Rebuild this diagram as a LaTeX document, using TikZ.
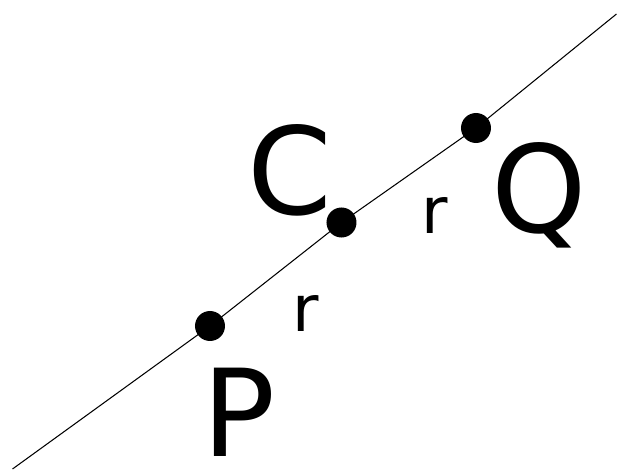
\documentclass[tikz,border=0pt]{standalone}
\usepackage{fontspec}
\setmainfont{DejaVu Sans}
\usetikzlibrary{positioning}

\begin{document}
\begin{tikzpicture}[
  pt/.style={circle, fill=black, inner sep=0pt, minimum size=0.6cm},
  biglbl/.style={inner sep=0pt, anchor=base, font=\fontsize{69}{78}\selectfont},
  rlbl/.style={inner sep=0pt, anchor=base, font=\fontsize{36.6}{42}\selectfont},
  ln/.style={line width=0.6pt}
]
\useasboundingbox (0,0) rectangle (12.34,9.4);

% Line ends
\coordinate (lo) at (0.25,0.02);
\coordinate (hi) at (12.33,9.12);

% Points
\node[pt] (p) at (4.2,2.88) {};
\node[pt] (c) at (6.83,4.95) {};
\node[pt] (q) at (9.52,6.84) {};

% Line
\draw[ln] (lo) -- (p.center) -- (c.center) -- (q.center) -- (hi);

% Labels
\node[biglbl] (plbl) at (4.78,0.26) {P};
\node[biglbl] (clbl) at (5.8,5.11) {C};
\node[biglbl] (qlbl) at (10.78,4.74) {Q};
\node[rlbl] (r1) at (6.12,2.77) {r};
\node[rlbl] (r2) at (8.7,4.73) {r};

\end{tikzpicture}
\end{document}
